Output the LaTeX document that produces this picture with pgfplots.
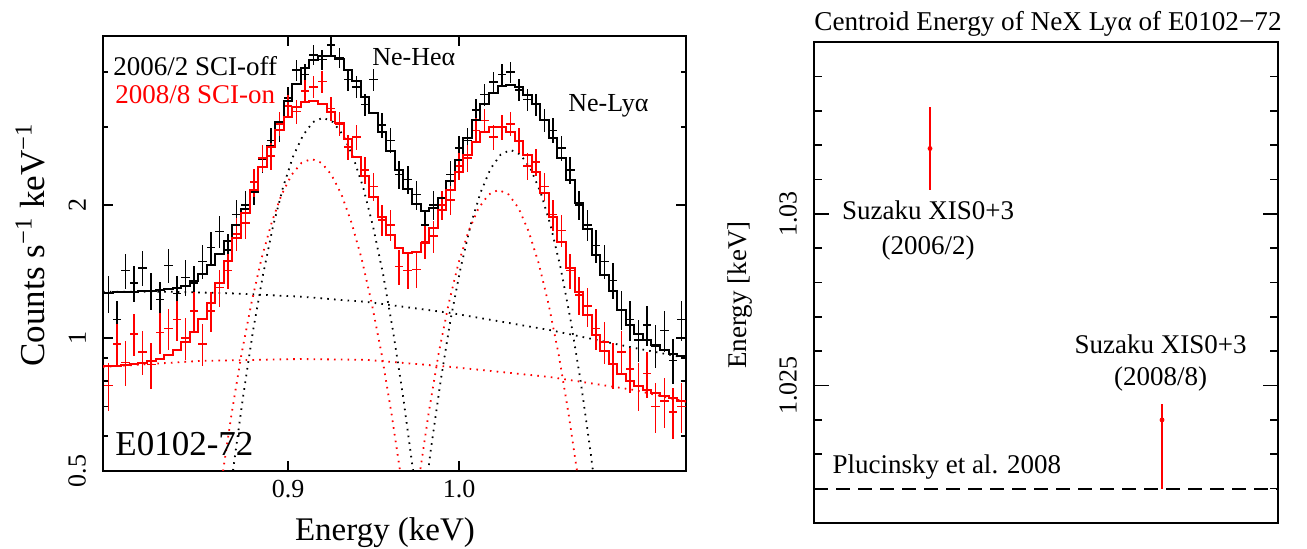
\documentclass[border=0pt]{standalone}
\usepackage{fontspec}
\setmainfont{Liberation Serif}
\usepackage{pgfplots}
\pgfplotsset{compat=1.18}
\usepackage{pgfplotstable}
\newcommand\fs[1]{\fontsize{#1pt}{#1pt}\selectfont}

\pgfplotstableread{
x y e
0.795 1.26 0.123
0.800 1.10 0.115
0.805 1.42 0.131
0.810 1.33 0.126
0.815 1.44 0.131
0.820 1.28 0.124
0.825 1.22 0.121
0.830 1.46 0.132
0.835 1.26 0.123
0.840 1.37 0.128
0.845 1.33 0.126
0.850 1.49 0.134
0.855 1.60 0.139
0.860 1.74 0.144
0.865 1.58 0.138
0.870 1.90 0.151
0.875 2.00 0.155
0.880 2.16 0.161
0.885 2.53 0.174
0.890 2.80 0.183
0.895 2.96 0.188
0.900 3.49 0.205
0.905 4.04 0.220
0.910 3.94 0.217
0.915 4.37 0.229
0.920 4.26 0.226
0.925 4.60 0.235
0.930 4.30 0.227
0.935 3.84 0.215
0.940 3.70 0.211
0.945 3.37 0.201
0.950 3.84 0.215
0.955 3.03 0.191
0.960 2.80 0.183
0.965 2.34 0.168
0.970 2.28 0.165
0.975 2.11 0.159
0.980 1.80 0.147
0.985 2.00 0.155
0.990 2.00 0.155
0.995 2.34 0.168
1.000 2.69 0.180
1.005 2.80 0.183
1.010 3.28 0.198
1.015 3.55 0.206
1.020 3.79 0.213
1.025 3.94 0.217
1.030 4.00 0.219
1.035 3.64 0.209
1.040 3.46 0.204
1.045 3.37 0.201
1.050 3.11 0.193
1.055 2.95 0.188
1.060 2.69 0.180
1.065 2.40 0.170
1.070 2.00 0.155
1.075 1.80 0.147
1.080 1.62 0.139
1.085 1.49 0.134
1.090 1.35 0.127
1.095 1.16 0.118
1.100 1.10 0.115
1.105 0.99 0.109
1.110 1.07 0.113
1.115 0.96 0.107
1.120 1.04 0.112
1.125 0.89 0.103
1.130 1.10 0.115
}\blackdata

\pgfplotstableread{
x y e
0.795 0.78 0.097
0.800 0.97 0.108
0.805 0.88 0.103
0.810 1.02 0.111
0.815 0.93 0.106
0.820 0.87 0.102
0.825 1.03 0.111
0.830 1.05 0.112
0.835 1.10 0.115
0.840 1.00 0.110
0.845 1.15 0.117
0.850 0.97 0.108
0.855 1.15 0.117
0.860 1.30 0.125
0.865 1.42 0.131
0.870 1.72 0.144
0.875 1.82 0.148
0.880 2.25 0.164
0.885 2.55 0.175
0.890 2.58 0.176
0.895 3.05 0.191
0.900 3.35 0.200
0.905 3.25 0.197
0.910 3.62 0.208
0.915 3.70 0.211
0.920 3.80 0.214
0.925 3.30 0.199
0.930 3.05 0.191
0.935 2.70 0.180
0.940 2.85 0.185
0.945 2.40 0.170
0.950 2.20 0.162
0.955 1.85 0.149
0.960 1.80 0.147
0.965 1.45 0.132
0.970 1.42 0.131
0.975 1.43 0.131
0.980 1.65 0.141
0.985 1.70 0.143
0.990 2.00 0.155
0.995 2.05 0.157
1.000 2.45 0.171
1.005 2.55 0.175
1.010 2.95 0.188
1.015 3.10 0.193
1.020 2.85 0.185
1.025 3.00 0.190
1.030 3.05 0.191
1.035 2.80 0.183
1.040 2.45 0.171
1.045 2.50 0.173
1.050 2.20 0.162
1.055 1.90 0.151
1.060 1.75 0.145
1.065 1.42 0.131
1.070 1.25 0.122
1.075 1.18 0.119
1.080 1.05 0.112
1.085 0.98 0.108
1.090 0.87 0.102
1.095 0.93 0.106
1.100 0.85 0.101
1.105 0.78 0.097
1.110 0.83 0.100
1.115 0.70 0.092
1.120 0.72 0.093
1.125 0.68 0.090
1.130 0.70 0.092
}\reddata

\pgfplotstableread{
x y
0.7918 1.264
0.795 1.264
0.800 1.267
0.805 1.270
0.810 1.272
0.815 1.275
0.820 1.278
0.825 1.284
0.830 1.290
0.835 1.300
0.840 1.311
0.845 1.342
0.850 1.392
0.855 1.463
0.860 1.545
0.865 1.658
0.870 1.797
0.875 1.954
0.880 2.140
0.885 2.431
0.890 2.723
0.895 3.073
0.900 3.432
0.905 3.756
0.910 4.090
0.915 4.256
0.920 4.339
0.925 4.340
0.930 4.278
0.935 4.048
0.940 3.814
0.945 3.502
0.950 3.228
0.955 2.924
0.960 2.644
0.965 2.394
0.970 2.169
0.975 2.012
0.980 1.938
0.985 1.968
0.990 2.078
0.995 2.266
1.000 2.527
1.005 2.835
1.010 3.113
1.015 3.391
1.020 3.578
1.025 3.707
1.030 3.736
1.035 3.690
1.040 3.539
1.045 3.377
1.050 3.104
1.055 2.826
1.060 2.549
1.065 2.272
1.070 2.023
1.075 1.764
1.080 1.544
1.085 1.391
1.090 1.276
1.095 1.158
1.100 1.070
1.105 1.021
1.110 0.990
1.115 0.962
1.120 0.941
1.125 0.922
1.130 0.908
1.1327 0.908
}\blackmodel

\pgfplotstableread{
x y
0.7918 0.862
0.795 0.862
0.800 0.865
0.805 0.868
0.810 0.873
0.815 0.878
0.820 0.885
0.825 0.898
0.830 0.914
0.835 0.940
0.840 0.977
0.845 1.030
0.850 1.103
0.855 1.201
0.860 1.328
0.865 1.491
0.870 1.685
0.875 1.914
0.880 2.164
0.885 2.432
0.890 2.697
0.895 2.949
0.900 3.160
0.905 3.322
0.910 3.415
0.915 3.436
0.920 3.376
0.925 3.247
0.930 3.059
0.935 2.824
0.940 2.566
0.945 2.327
0.950 2.087
0.955 1.876
0.960 1.712
0.965 1.601
0.970 1.553
0.975 1.566
0.980 1.640
0.985 1.771
0.990 1.946
0.995 2.157
1.000 2.377
1.005 2.592
1.010 2.777
1.015 2.916
1.020 2.993
1.025 2.994
1.030 2.926
1.035 2.789
1.040 2.598
1.045 2.371
1.050 2.127
1.055 1.880
1.060 1.649
1.065 1.441
1.070 1.268
1.075 1.125
1.080 1.016
1.085 0.933
1.090 0.874
1.095 0.830
1.100 0.801
1.105 0.778
1.110 0.762
1.115 0.749
1.120 0.739
1.125 0.730
1.130 0.721
1.1327 0.721
}\redmodel

\begin{document}
\begin{tikzpicture}
\useasboundingbox (0,0) rectangle (653.5pt,274.5pt);
\begin{axis}[
  at={(51.5pt,39pt)}, anchor=south west,
  width=291.5pt, height=217.5pt, scale only axis,
  xmin=0.7918, xmax=1.1327,
  ymode=log, ymin=0.5, ymax=4.82,
  xtick={0.9,1.0}, xticklabels={0.9,1.0},
  ytick={0.5,1,2}, yticklabels={0.5,1,2},
  minor ytick={0.6,0.7,0.8,0.9,3,4},
  tick align=inside,
  major tick length=5pt, minor tick length=2.5pt,
  every tick/.style={black, line width=0.8pt},
  axis line style={line width=1pt},
  /pgf/number format/assume math mode=true,
  ticklabel style={font=\fs{13}},
  yticklabel style={rotate=90, anchor=south},
  yticklabel shift=5pt,
  xticklabel shift=1pt,
  dotc/.style={line width=0.9pt, dash pattern=on 0.8pt off 2.6pt},
  errpts/.style={only marks, mark=*, mark size=0pt, mark options={draw opacity=0, fill opacity=0}},
]
% dotted components
\addplot[dotc, black] coordinates {(0.7918,1.272) (0.831,1.272) (0.866,1.262) (0.907,1.240) (0.946,1.206) (0.995,1.139) (1.053,1.042) (1.102,0.950) (1.1327,0.901)};
\addplot[dotc, red] coordinates {(0.7918,0.860) (0.8485,0.887) (0.907,0.896) (0.946,0.892) (0.995,0.860) (1.053,0.816) (1.102,0.763) (1.1327,0.717)};
\addplot[dotc, black] coordinates {(0.8649,0.4058) (0.8678,0.5007) (0.8737,0.7362) (0.8795,1.036) (0.8854,1.392) (0.8912,1.788) (0.8971,2.193) (0.9029,2.571) (0.9088,2.876) (0.9146,3.079) (0.9205,3.150) (0.9263,3.079) (0.9322,2.876) (0.9380,2.571) (0.9439,2.193) (0.9497,1.788) (0.9556,1.392) (0.9614,1.036) (0.9673,0.7362) (0.9731,0.5007) (0.9760,0.4058)};
\addplot[dotc, red] coordinates {(0.8582,0.391) (0.8611,0.4738) (0.8670,0.674) (0.8728,0.920) (0.8787,1.2045) (0.8845,1.513) (0.8904,1.823) (0.8962,2.109) (0.9021,2.339) (0.9079,2.489) (0.9137,2.541) (0.9196,2.489) (0.9254,2.339) (0.9313,2.109) (0.9371,1.823) (0.9430,1.513) (0.9488,1.2045) (0.9547,0.920) (0.9605,0.674) (0.9664,0.4738) (0.9693,0.391)};
\addplot[dotc, black] coordinates {(0.9775,0.363) (0.9833,0.552) (0.9892,0.798) (0.9950,1.099) (1.0009,1.440) (1.0067,1.797) (1.0126,2.134) (1.0184,2.414) (1.0243,2.598) (1.0301,2.663) (1.0360,2.598) (1.0418,2.414) (1.0477,2.134) (1.0535,1.797) (1.0594,1.440) (1.0652,1.099) (1.0711,0.798) (1.0769,0.552) (1.0828,0.363)};
\addplot[dotc, red] coordinates {(0.9716,0.3434) (0.9763,0.4727) (0.9822,0.675) (0.9880,0.9195) (0.9939,1.194) (0.9997,1.478) (1.0056,1.746) (1.0114,1.966) (1.0173,2.111) (1.0231,2.162) (1.0290,2.111) (1.0348,1.966) (1.0406,1.746) (1.0465,1.478) (1.0523,1.194) (1.0582,0.9195) (1.0640,0.675) (1.0699,0.4727) (1.0746,0.3434)};
% data
\addplot[black, errpts,
  error bars/.cd, x dir=both, x fixed=0.0025, y dir=both, y explicit,
  error mark=none, error bar style={line width=0.75pt, black, opacity=1}]
  table[x=x, y=y, y error=e] {\blackdata};
\addplot[red, errpts,
  error bars/.cd, x dir=both, x fixed=0.0025, y dir=both, y explicit,
  error mark=none, error bar style={line width=0.75pt, red, opacity=1}]
  table[x=x, y=y, y error=e] {\reddata};
% models
\addplot[black, line width=1pt, const plot mark mid] table[x=x, y=y] {\blackmodel};
\addplot[red, line width=1pt, const plot mark mid] table[x=x, y=y] {\redmodel};
\end{axis}

\node[anchor=base west, inner sep=0, font=\fs{13.5}] at (56.5pt,236.5pt) {2006/2 SCI-off};
\node[anchor=base west, inner sep=0, font=\fs{13.5}, text=red] at (57.5pt,222.5pt) {2008/8 SCI-on};
\node[anchor=base west, inner sep=0, font=\fs{13}] at (186pt,241.5pt) {Ne-Heα};
\node[anchor=base west, inner sep=0, font=\fs{13}] at (284pt,218.5pt) {Ne-Lyα};
\node[anchor=base west, inner sep=0, font=\fs{17.5}] at (57.5pt,46.5pt) {E0102-72};
\node[anchor=base, inner sep=0, font=\fs{16.5}] at (192.5pt,4pt) {Energy (keV)};
\node[rotate=90, inner sep=0, font=\fs{17.5}] at (15pt,152pt) {Counts s\textsuperscript{−1} keV\textsuperscript{−1}};

\begin{axis}[
  at={(407pt,13pt)}, anchor=south west,
  width=232pt, height=240.5pt, scale only axis,
  xmin=0, xmax=1, ymin=1.021, ymax=1.035,
  xtick=\empty,
  ytick={1.025,1.03}, yticklabels={1.025,1.03},
  minor ytick={1.021,1.022,1.023,1.024,1.026,1.027,1.028,1.029,1.031,1.032,1.033,1.034},
  tick align=inside,
  major tick length=7.5pt, minor tick length=4pt,
  every tick/.style={black, line width=0.8pt},
  axis line style={line width=1pt},
  /pgf/number format/assume math mode=true,
  ticklabel style={font=\fs{13}},
  yticklabel style={rotate=90, anchor=south},
  yticklabel shift=5pt,
]
\addplot[black, line width=1pt, dash pattern=on 7pt off 4pt] coordinates {(0,1.022) (1,1.022)};
\addplot[red, only marks, mark=*, mark size=1pt,
  error bars/.cd, y dir=both, y explicit,
  error mark=none, error bar style={line width=1pt, red}]
  table[x=x, y=y, y error plus=ep, y error minus=em] {
x y ep em
0.25 1.0319 0.0012 0.0012
0.75 1.0240 0.00047 0.0020
};
\node[font=\fs{13.5}] at (axis cs:0.246,1.0301) {Suzaku XIS0+3};
\node[font=\fs{13.5}] at (axis cs:0.246,1.0290) {(2006/2)};
\node[font=\fs{13.5}] at (axis cs:0.747,1.0262) {Suzaku XIS0+3};
\node[font=\fs{13.5}] at (axis cs:0.747,1.0252) {(2008/8)};
\node[font=\fs{13.5}, anchor=west, inner sep=0] at (axis cs:0.039,1.02264) {Plucinsky et al. 2008};
\end{axis}
\node[anchor=base, inner sep=0, font=\fs{13.6}] at (524pt,259pt) {Centroid Energy of NeX Lyα of E0102−72};
\node[rotate=90, inner sep=0, font=\fs{13.5}] at (370pt,127pt) {Energy [keV]};
\end{tikzpicture}
\end{document}
